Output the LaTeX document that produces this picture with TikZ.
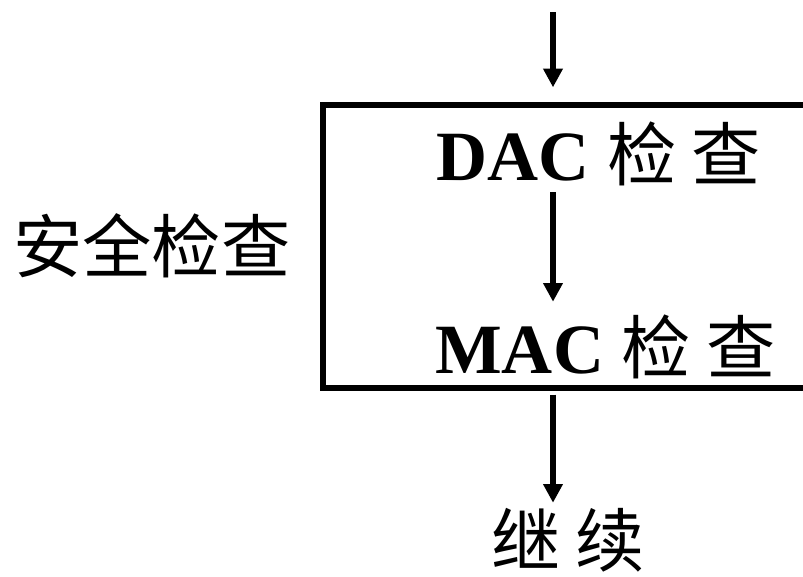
\documentclass[tikz,border=0pt]{standalone}
\usepackage{fontspec}
\setmainfont{Liberation Serif}
\newfontfamily\cjk{Noto Sans CJK SC}[Scale=0.98]
\usetikzlibrary{arrows.meta}

\tikzset{
    flow/.style={line width=4pt, -{Triangle[length=14pt,width=14pt]}},
    txt/.style={inner sep=0pt, anchor=base west, font=\fontsize{53}{60}\selectfont,
                text height=33.75pt, text depth=0pt},
}

\begin{document}
\begin{tikzpicture}[x=0.75pt, y=-0.75pt]
        \useasboundingbox (0,0) rectangle (803,576);

        % box and texts:
        \node(box) [draw, line width=4pt, minimum width=369pt, minimum height=212.25pt,
                    inner sep=0pt] at (569,246.5) {};
        \node(chk)  [txt] at (13,272) {\cjk 安全检查};
        \node(dac)  [txt] at (436,180) {\textbf{DAC} {\cjk 检 查}};
        \node(mac)  [txt] at (435,373) {\textbf{MAC} {\cjk 检 查}};
        \node(cont) [txt] at (491,566) {\cjk 继 续};

        % arrows:
        \coordinate(top) at (553,12);
        \draw[flow, shorten >=11.25pt] (top) -- (top |- box.north);
        \draw[flow, shorten <=9pt, shorten >=19.5pt] (top |- dac.south) -- (top |- mac.north);
        \draw[flow, shorten <=3pt, shorten >=13.5pt] (top |- box.south) -- (top |- cont.north);

\end{tikzpicture}
\end{document}
